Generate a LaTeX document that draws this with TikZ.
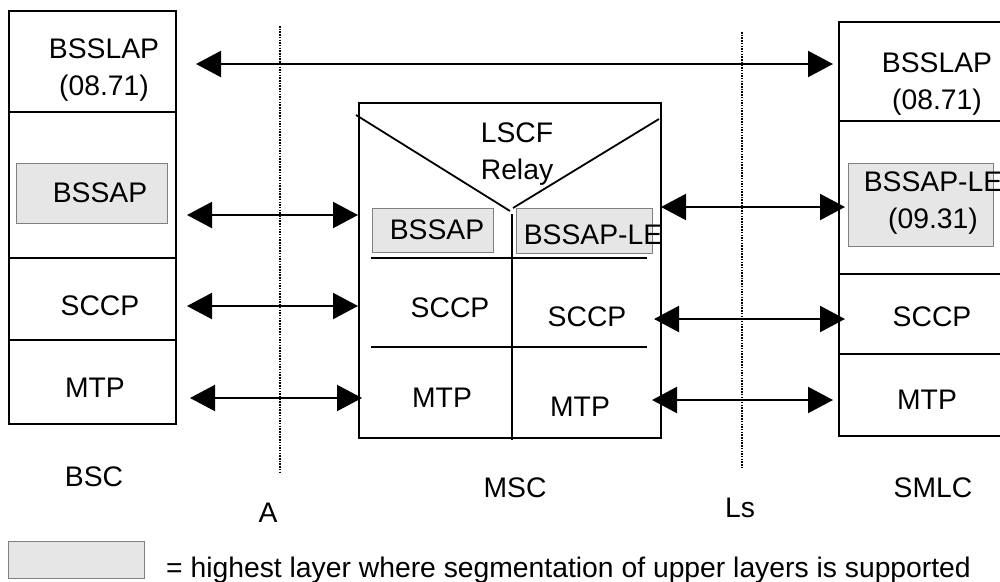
\documentclass[tikz,border=0pt]{standalone}
\usepackage{fontspec}
\setmainfont{Liberation Sans}
\usetikzlibrary{arrows.meta}
\definecolor{segfill}{HTML}{E6E6E6}
\definecolor{segdraw}{HTML}{808080}
\begin{document}
\begin{tikzpicture}[x=1pt,y=-1pt,
  font=\fontsize{28.3}{37}\selectfont,
  boxline/.style={line width=2.4pt},
  segbox/.style={draw=segdraw, fill=segfill, line width=1pt},
  lbl/.style={inner sep=0pt, align=center},
  conn/.style={line width=2.2pt, {Triangle[length=25pt,width=26pt]}-{Triangle[length=25pt,width=26pt]}},
  iface/.style={line width=1.3pt, dash pattern=on 1.5pt off 1.2pt}]
\fill[white] (0,0) rectangle (1000,581);
\useasboundingbox (0,0) rectangle (1000,581);

% ---------- BSC ----------
\draw[boxline] (9,11) rectangle (176,424);
\draw[boxline] (9,112) -- (176,112);
\draw[boxline] (9,258) -- (175,258);
\draw[boxline] (9,340) -- (175,340);
\draw[segbox] (16,163) rectangle (167,223);
\node[lbl] (bsclap) at (104,70) {BSSLAP\\(08.71)};
\node[lbl] (bscap) at (100,193) {BSSAP};
\node[lbl] (bscsccp) at (100,306) {SCCP};
\node[lbl] (bscmtp) at (95,388) {MTP};

% ---------- MSC ----------
\draw[boxline] (359,103) rectangle (661,438);
\draw[line width=1.8pt] (356,115) -- (510,211);
\draw[line width=1.8pt] (513,208) -- (659,119);
\draw[line width=2pt] (512,214) -- (512,440);
\draw[line width=2pt] (371,258) -- (647,258);
\draw[line width=2pt] (371,347) -- (647,347);
\draw[segbox] (372,208) rectangle (493,252);
\draw[segbox] (516,208) rectangle (652,253);
\node[lbl] (relay) at (517,154) {LSCF\\Relay};
\node[lbl] (mscap) at (437,230) {BSSAP};
\node[lbl] (mscle) at (593,235) {BSSAP-LE};
\node[lbl] (mscsccpl) at (450,308) {SCCP};
\node[lbl] (mscsccpr) at (587,317) {SCCP};
\node[lbl] (mscmtpl) at (442,398) {MTP};
\node[lbl] (mscmtpr) at (580,407) {MTP};

% ---------- SMLC ----------
\draw[boxline] (1010,22) -- (839,22) -- (839,436) -- (1010,436);
\draw[boxline] (839,121) -- (1010,121);
\draw[boxline] (839,274) -- (1010,274);
\draw[boxline] (839,354) -- (1010,354);
\draw[segbox] (848,163) rectangle (993,246);
\node[lbl] (smlclap) at (937,84) {BSSLAP\\(08.71)};
\node[lbl] (smlcle) at (933,203) {BSSAP-LE\\(09.31)};
\node[lbl] (smlcsccp) at (932,317) {SCCP};
\node[lbl] (smlcmtp) at (927,400) {MTP};

% ---------- interfaces ----------
\coordinate (at) at (280,26);  \coordinate (ab) at (280,473);
\coordinate (lt) at (742,32);  \coordinate (lb) at (742,468);
\draw[iface] (at) -- (ab);
\draw[iface] (lt) -- (lb);

% ---------- connectors ----------
\coordinate (c1a) at (196,64);  \coordinate (c1b) at (833,64);
\coordinate (c2a) at (187,215); \coordinate (c2b) at (358,215);
\coordinate (c3a) at (187,306); \coordinate (c3b) at (358,306);
\coordinate (c4a) at (190,398); \coordinate (c4b) at (362,398);
\coordinate (c5a) at (661,207); \coordinate (c5b) at (845,207);
\coordinate (c6a) at (654,319); \coordinate (c6b) at (845,319);
\coordinate (c7a) at (652,400); \coordinate (c7b) at (833,400);
\draw[conn] (c1a) -- (c1b);
\draw[conn] (c2a) -- (c2b);
\draw[conn] (c3a) -- (c3b);
\draw[conn] (c4a) -- (c4b);
\draw[conn] (c5a) -- (c5b);
\draw[conn] (c6a) -- (c6b);
\draw[conn] (c7a) -- (c7b);

% ---------- labels ----------
\node[lbl] (bsc) at (94,477) {BSC};
\node[lbl] (alab) at (268,513) {A};
\node[lbl] (msc) at (515,488) {MSC};
\node[lbl] (lslab) at (740,508) {Ls};
\node[lbl] (smlc) at (933,488) {SMLC};

% ---------- legend ----------
\draw[segbox] (8,541) rectangle (144,578);
\node[lbl, anchor=base west] (legend) at (166,577) {= highest layer where segmentation of upper layers is supported};
\end{tikzpicture}
\end{document}
